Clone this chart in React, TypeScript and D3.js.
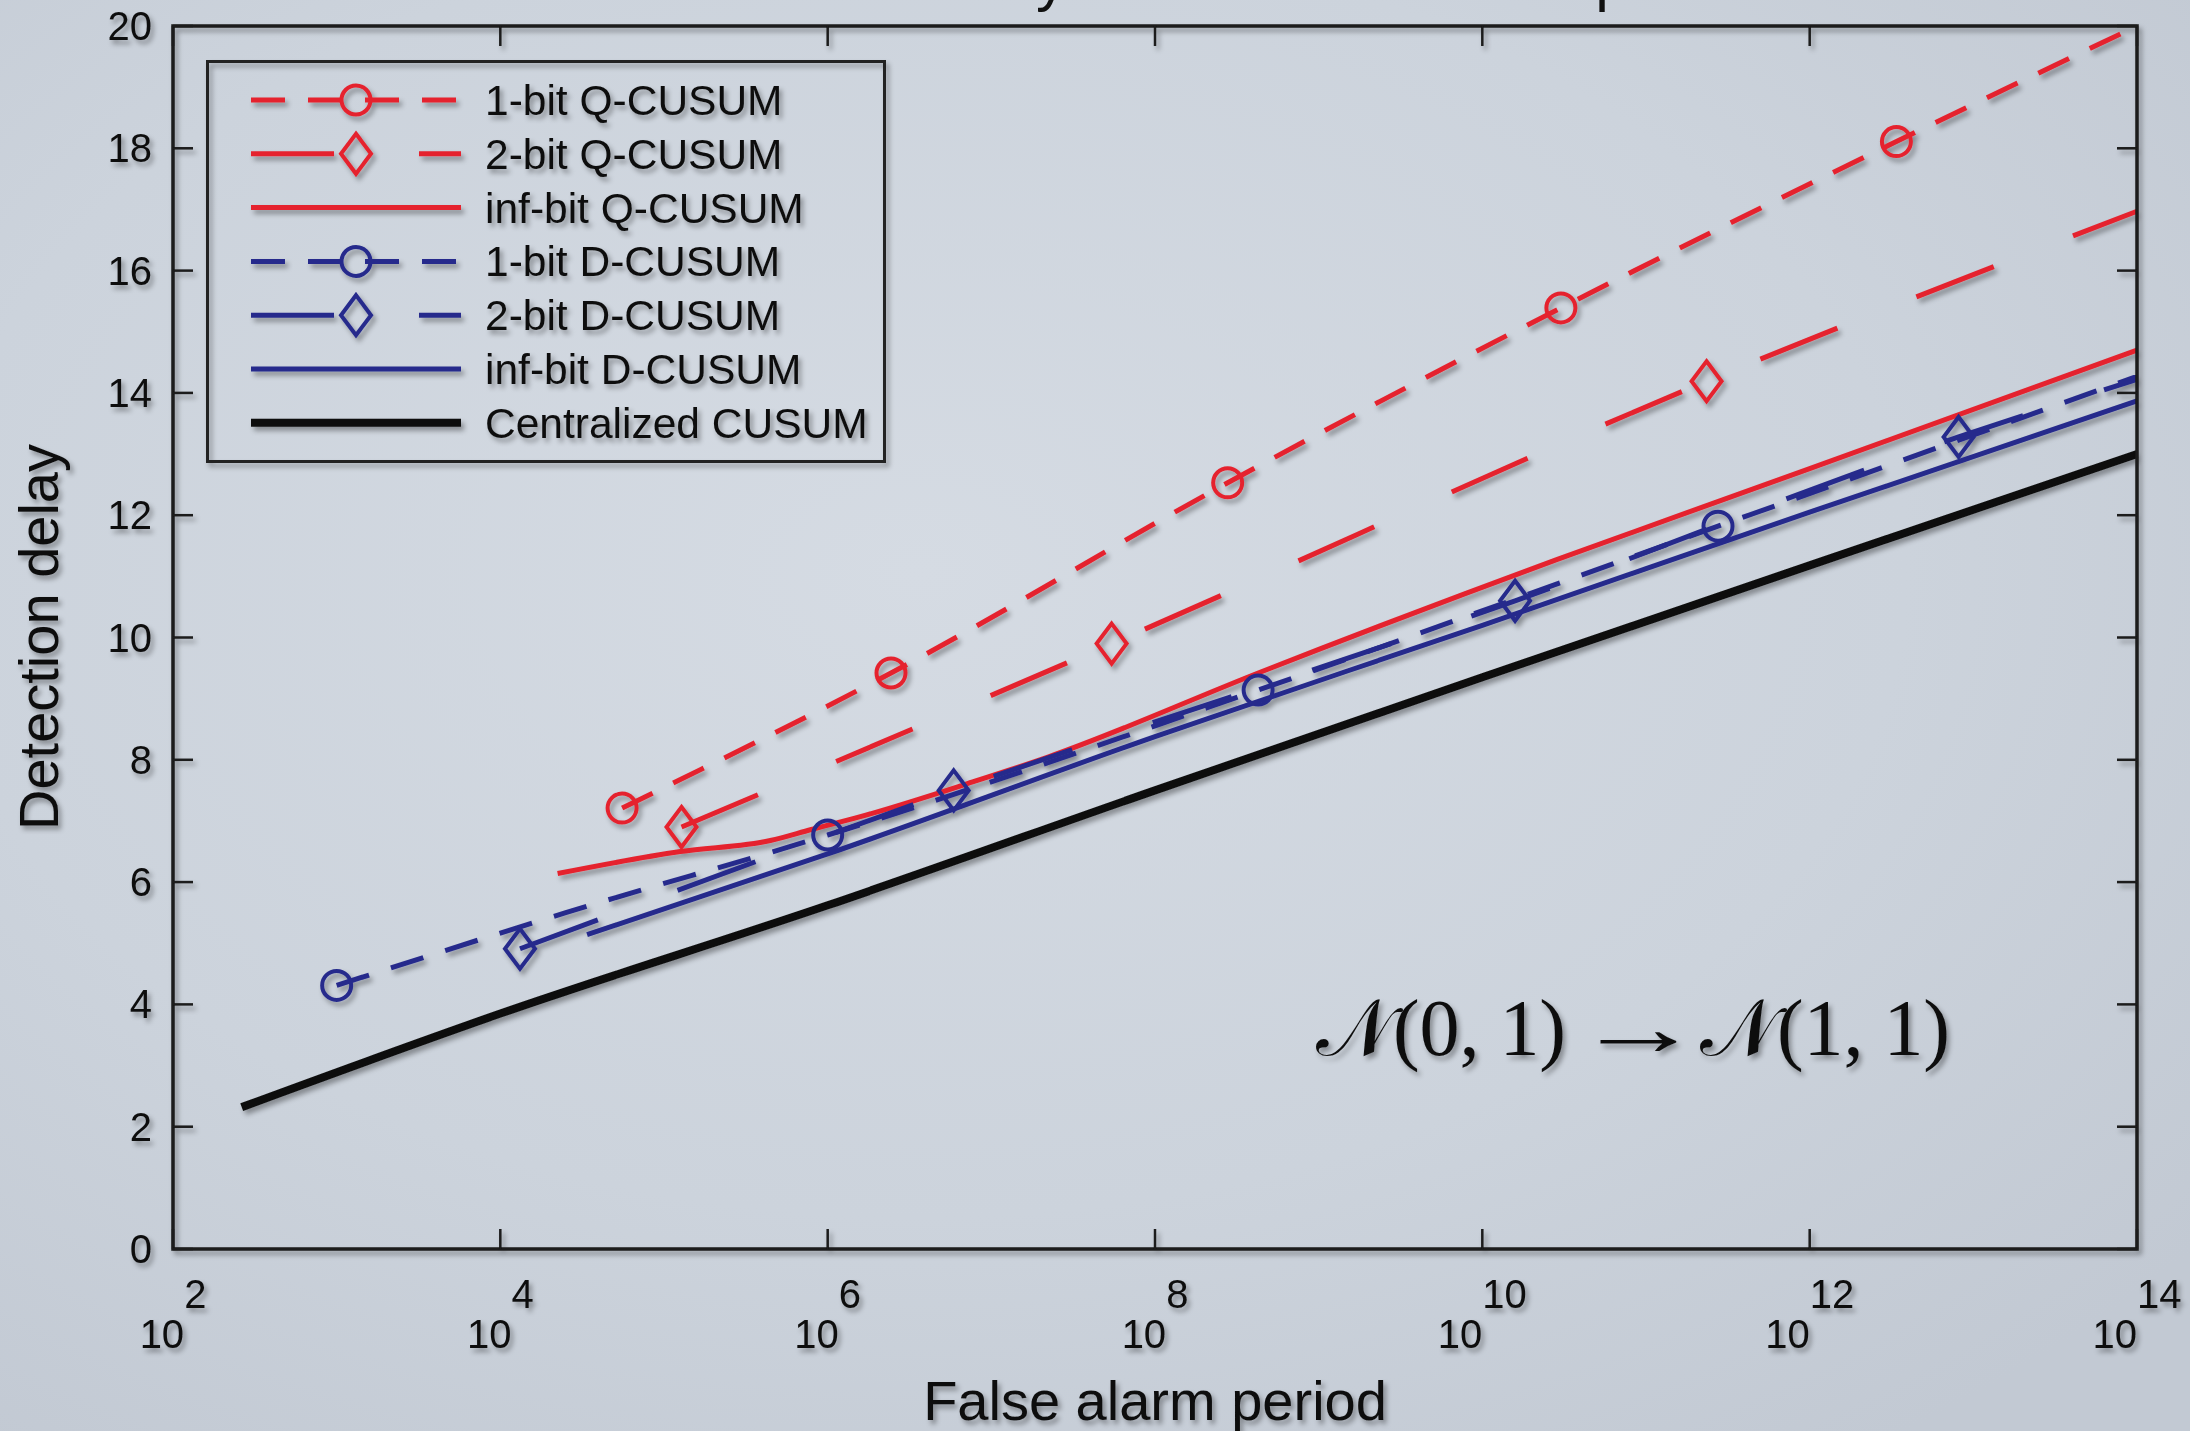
import React from 'react';
import * as d3 from 'd3';

// exponents of the false alarm period (10^e) and detection delays
const q1Exp = [4.744, 6.387, 8.444, 10.48, 12.53, 14];
const q1Delay = [7.21, 9.42, 12.53, 15.39, 18.11, 20.0];
const q1Mark = [1, 1, 1, 1, 1, 0];

const q2Exp = [5.107, 7.735, 11.37, 14];
const q2Delay = [6.9, 9.9, 14.19, 16.97];
const q2Mark = [1, 1, 1, 0];

const qInfExp = [4.35, 5.1, 5.65, 5.9, 6.2, 6.9, 7.35, 8.65, 10.45, 12, 14];
const qInfDelay = [6.14, 6.5, 6.68, 6.86, 7.07, 7.65, 8.05, 9.44, 11.27, 12.76, 14.7];

const d1Exp = [3.0, 4.4, 6.0, 8.63, 11.44, 14];
const d1Delay = [4.31, 5.5, 6.77, 9.14, 11.82, 14.27];
const d1Mark = [1, 0, 1, 1, 1, 0];

const d2Exp = [4.12, 6.77, 10.2, 12.91, 14];
const d2Delay = [4.91, 7.5, 10.6, 13.28, 14.22];
const d2Mark = [1, 1, 1, 1, 0];

const dInfExp = [4.53, 6, 8, 10, 12, 14];
const dInfDelay = [5.14, 6.46, 8.38, 10.2, 12.05, 13.87];

const cExp = [2.42, 4, 6, 8, 10, 12, 14];
const cDelay = [2.32, 3.85, 5.62, 7.5, 9.35, 11.18, 13.0];

const xTickExps = [2, 4, 6, 8, 10, 12, 14];
const yTicks = [0, 2, 4, 6, 8, 10, 12, 14, 16, 18, 20];

const names = [
  '1-bit Q-CUSUM',
  '2-bit Q-CUSUM',
  'inf-bit Q-CUSUM',
  '1-bit D-CUSUM',
  '2-bit D-CUSUM',
  'inf-bit D-CUSUM',
  'Centralized CUSUM',
];

const RED = '#e5232e';
const BLUE = '#262b8c';
const BLACK = '#111';
const FONT = '"Liberation Sans", Arial, Helvetica, sans-serif';
const SERIF = '"Liberation Serif", "DejaVu Serif", serif';

const W = 2190;
const H = 1431;
const left = 173;
const right = 2137;
const top = 26;
const bottom = 1249;

const toPts = (ex, ds) => ex.map((e, i) => [Math.pow(10, e), ds[i]]);

const series = [
  { name: names[0], pts: toPts(q1Exp, q1Delay), mark: q1Mark, color: RED, width: 5, dash: '34 23', marker: 'o' },
  { name: names[1], pts: toPts(q2Exp, q2Delay), mark: q2Mark, color: RED, width: 5, dash: '83 85', marker: 'd' },
  { name: names[2], pts: toPts(qInfExp, qInfDelay), mark: null, color: RED, width: 5, dash: null, marker: null },
  { name: names[3], pts: toPts(d1Exp, d1Delay), mark: d1Mark, color: BLUE, width: 5, dash: '34 23', marker: 'o' },
  { name: names[4], pts: toPts(d2Exp, d2Delay), mark: d2Mark, color: BLUE, width: 5, dash: '83 85', marker: 'd' },
  { name: names[5], pts: toPts(dInfExp, dInfDelay), mark: null, color: BLUE, width: 5, dash: null, marker: null },
  { name: names[6], pts: toPts(cExp, cDelay), mark: null, color: BLACK, width: 8, dash: null, marker: null },
];

const Marker = ({ type, cx, cy, color }) => {
  if (type === 'o') {
    return <circle cx={cx} cy={cy} r={14.5} fill="none" stroke={color} strokeWidth={4} />;
  }
  const hw = 15;
  const hh = 20;
  return (
    <path
      d={`M${cx},${cy - hh}L${cx + hw},${cy}L${cx},${cy + hh}L${cx - hw},${cy}Z`}
      fill="none"
      stroke={color}
      strokeWidth={4}
    />
  );
};

export default function App() {
  const x = d3.scaleLog().domain([1e2, 1e14]).range([left, right]);
  const y = d3.scaleLinear().domain([0, 20]).range([bottom, top]);
  const line = d3
    .line()
    .x((d) => x(d[0]))
    .y((d) => y(d[1]))
    .curve(d3.curveMonotoneX);

  const legX0 = 251;
  const legX1 = 461;
  const legY0 = 100;
  const legStep = 53.8;

  return (
    <svg
      width={W}
      height={H}
      style={{ position: 'absolute', left: 0, top: 0, display: 'block' }}
    >
      <defs>
        <radialGradient id="bg" cx="0.42" cy="0.4" r="0.75">
          <stop offset="0" stopColor="#d5dbe3" />
          <stop offset="0.6" stopColor="#ccd3dc" />
          <stop offset="1" stopColor="#c2c9d3" />
        </radialGradient>
        <filter id="shadow" x="-5%" y="-5%" width="110%" height="110%">
          <feDropShadow dx="3" dy="4" stdDeviation="2.5" floodColor="#000" floodOpacity="0.35" />
        </filter>
        <clipPath id="plot">
          <rect x={left} y={top - 2} width={right - left + 2} height={bottom - top + 2} />
        </clipPath>
      </defs>
      <rect x={0} y={0} width={W} height={H} fill="url(#bg)" />

      {/* title: the figure is cropped, only its descenders reach into the picture */}
      <text x={646} y={-1} fontFamily={FONT} fontSize={61} fill="#111">
        Detection delay versus false alarm period
      </text>

      <g filter="url(#shadow)">
        {/* series */}
        <g clipPath="url(#plot)">
          {series.map((s) => (
            <path
              key={s.name}
              d={line(s.pts)}
              fill="none"
              stroke={s.color}
              strokeWidth={s.width}
              strokeDasharray={s.dash || undefined}
            />
          ))}
        </g>
        {series.map((s) =>
          s.marker
            ? s.pts.map((p, i) =>
                s.mark[i] ? (
                  <Marker key={s.name + i} type={s.marker} cx={x(p[0])} cy={y(p[1])} color={s.color} />
                ) : null
              )
            : null
        )}

        {/* axes box and ticks */}
        <rect x={left} y={top} width={right - left} height={bottom - top} fill="none" stroke="#1a1a1a" strokeWidth={3.5} />
        {xTickExps.map((e) => (
          <g key={'xt' + e}>
            <line x1={x(Math.pow(10, e))} x2={x(Math.pow(10, e))} y1={bottom} y2={bottom - 20} stroke="#1a1a1a" strokeWidth={2.5} />
            <line x1={x(Math.pow(10, e))} x2={x(Math.pow(10, e))} y1={top} y2={top + 20} stroke="#1a1a1a" strokeWidth={2.5} />
            <text x={x(Math.pow(10, e))} y={1348} textAnchor="middle" fontFamily={FONT} fontSize={40} fill="#111">
              10
              <tspan dy={-40}>{e}</tspan>
            </text>
          </g>
        ))}
        {yTicks.map((v) => (
          <g key={'yt' + v}>
            <line x1={left} x2={left + 20} y1={y(v)} y2={y(v)} stroke="#1a1a1a" strokeWidth={2.5} />
            <line x1={right} x2={right - 20} y1={y(v)} y2={y(v)} stroke="#1a1a1a" strokeWidth={2.5} />
            <text x={152} y={y(v) + 14} textAnchor="end" fontFamily={FONT} fontSize={40} fill="#111">
              {v}
            </text>
          </g>
        ))}

        {/* axis labels */}
        <text x={(left + right) / 2} y={1420} textAnchor="middle" fontFamily={FONT} fontSize={56} fill="#111">
          False alarm period
        </text>
        <text
          transform={`translate(58, 637) rotate(-90)`}
          textAnchor="middle"
          fontFamily={FONT}
          fontSize={56}
          fill="#111"
        >
          Detection delay
        </text>

        {/* annotation */}
        <text x={1316} y={1055} textLength={250} lengthAdjust="spacing" fontFamily={SERIF} fontSize={80} fill="#111">
          𝒩(0, 1)
        </text>
        <text
          transform="translate(1638, 1055) scale(1.6, 1)"
          textAnchor="middle"
          fontFamily={SERIF}
          fontSize={80}
          fill="#111"
        >
          →
        </text>
        <text x={1700} y={1055} textLength={250} lengthAdjust="spacing" fontFamily={SERIF} fontSize={80} fill="#111">
          𝒩(1, 1)
        </text>

        {/* legend */}
        <rect x={207.5} y={61.5} width={677} height={400} fill="none" stroke="#222" strokeWidth={3} />
        {series.map((s, i) => {
          const ly = legY0 + i * legStep;
          return (
            <g key={'leg' + i}>
              <line x1={legX0} x2={legX1} y1={ly} y2={ly} stroke={s.color} strokeWidth={s.width} strokeDasharray={s.dash || undefined} />
              {s.marker ? <Marker type={s.marker} cx={(legX0 + legX1) / 2} cy={ly} color={s.color} /> : null}
              <text x={485} y={ly + 15} fontFamily={FONT} fontSize={42.5} fill="#111">
                {s.name}
              </text>
            </g>
          );
        })}
      </g>
    </svg>
  );
}
